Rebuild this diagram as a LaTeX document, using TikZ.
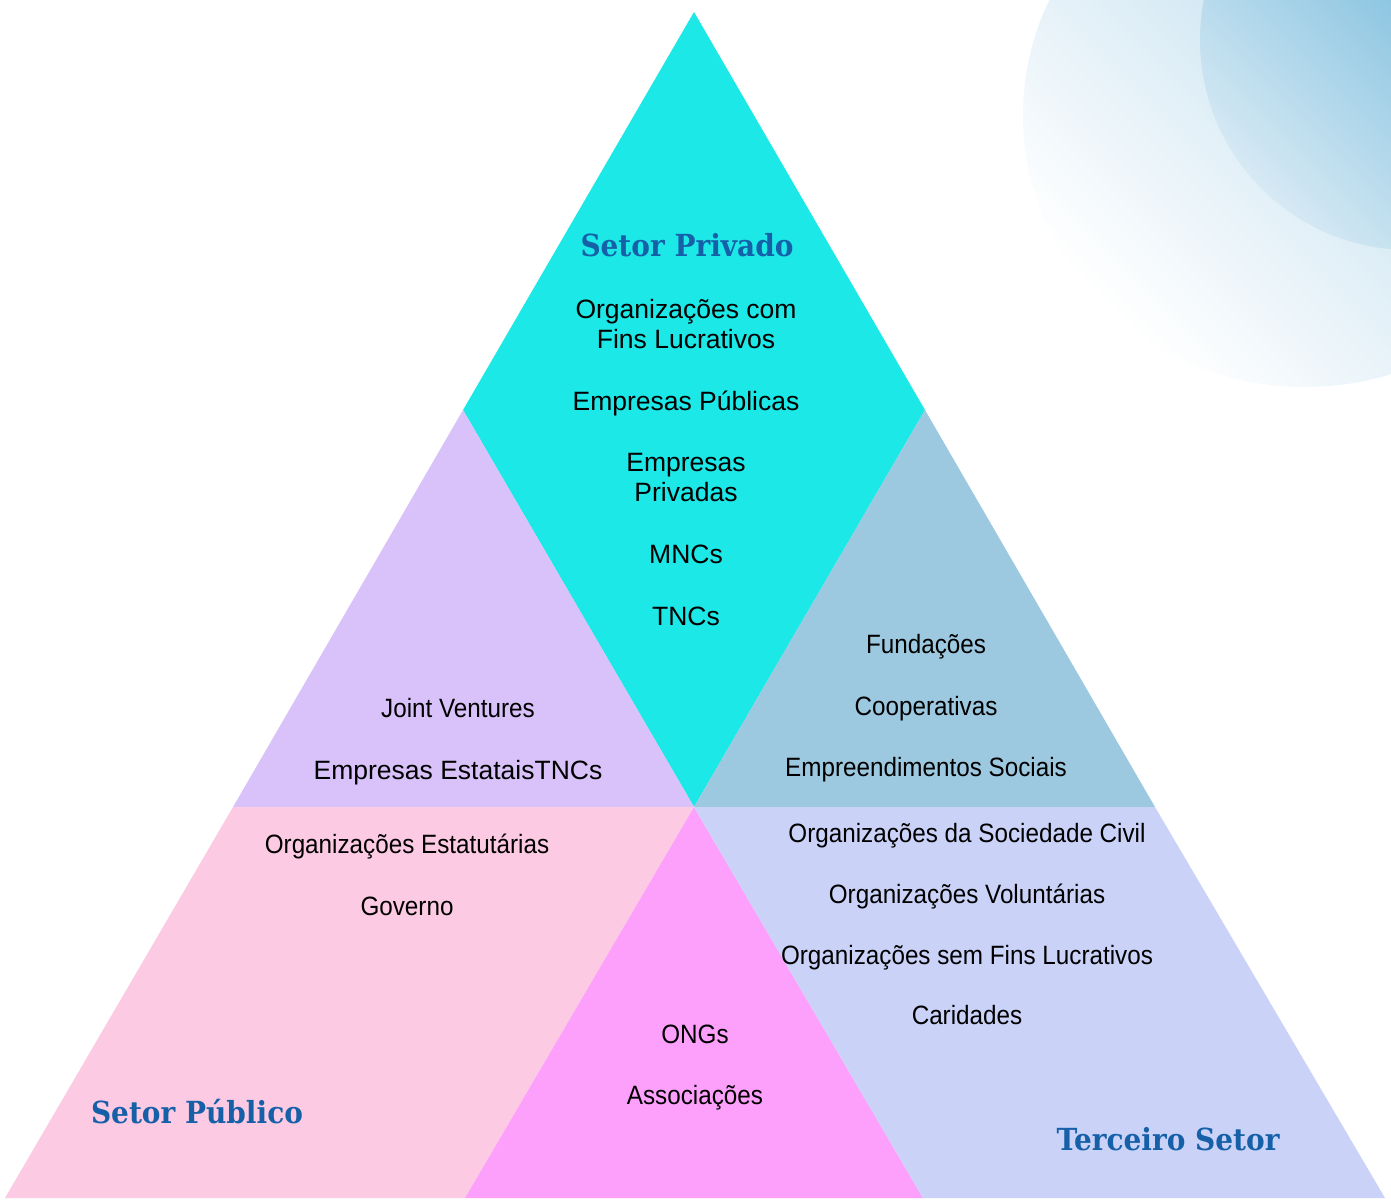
\documentclass[tikz,border=0pt]{standalone}
\usepackage{fontspec}
\setmainfont{Liberation Sans}
\newfontfamily\condfont[FakeStretch=0.915]{Liberation Sans}
\newfontfamily\titlefont[FakeStretch=0.92]{DejaVu Serif}
\definecolor{cyanf}{HTML}{1CE8E8}
\definecolor{purplef}{HTML}{D9C2F9}
\definecolor{bluegrayf}{HTML}{9DC9E0}
\definecolor{pinkf}{HTML}{FDCAE3}
\definecolor{magentaf}{HTML}{FDA0FC}
\definecolor{lavenderf}{HTML}{CAD2F8}
\definecolor{titleblue}{HTML}{1660A8}
\definecolor{circouterM}{HTML}{D3E7F3}
\definecolor{circouterB}{HTML}{AFD5EA}
\definecolor{circinnerA}{HTML}{D6E9F4}
\definecolor{circinnerB}{HTML}{4FA8D2}
\begin{document}
\begin{tikzpicture}[x=1pt,y=-1pt,
  txt/.style={anchor=base, inner sep=0pt, font=\fontsize{26.5}{30}\selectfont},
  ctxt/.style={anchor=base, inner sep=0pt, font=\condfont\fontsize{26.5}{30}\selectfont},
  ttl/.style={anchor=base, inner sep=0pt, text=titleblue, font=\titlefont\bfseries\fontsize{30.4}{34}\selectfont}]
\useasboundingbox (0,0) rectangle (1391,1202);
\fill[white] (0,0) rectangle (1391,1202);
% decorative circles
\begin{scope}
\clip (0,0) rectangle (1391,1202);
\shade[shading=axis, bottom color=white, middle color=circouterM, top color=circouterB, shading angle=-45]
  (1305,115) ellipse [x radius=282, y radius=272];
\shade[shading=axis, bottom color=circinnerA, top color=circinnerB, shading angle=-45]
  (1410,40) circle [radius=210];
\end{scope}
% vertices
\coordinate (A) at (694,12);
\coordinate (L1) at (463,410);
\coordinate (R1) at (925,410);
\coordinate (L2) at (233,807);
\coordinate (M2) at (694,807);
\coordinate (R2) at (1155,807);
\coordinate (BL) at (5,1198);
\coordinate (B1) at (465,1198);
\coordinate (B2) at (923,1198);
\coordinate (BR) at (1385,1198);
% regions
\fill[cyanf] (A) -- (R1) -- (M2) -- (L1) -- cycle;
\fill[purplef] (L1) -- (M2) -- (L2) -- cycle;
\fill[bluegrayf] (R1) -- (R2) -- (M2) -- cycle;
\fill[pinkf] (L2) -- (M2) -- (B1) -- (BL) -- cycle;
\fill[magentaf] (M2) -- (B2) -- (B1) -- cycle;
\fill[lavenderf] (M2) -- (R2) -- (BR) -- (B2) -- cycle;
% titles
\node[ttl] (tpriv) at (687,256) {Setor Privado};
\node[ttl] (tpub) at (197,1123) {Setor Público};
\node[ttl] (tter) at (1168,1150) {Terceiro Setor};
% private sector
\node[txt] (p1a) at (686,318) {Organizações com};
\node[txt] (p1b) at (686,348) {Fins Lucrativos};
\node[txt] (p2) at (686,410) {Empresas Públicas};
\node[txt] (p3a) at (686,471) {Empresas};
\node[txt] (p3b) at (686,501) {Privadas};
\node[txt] (p4) at (686,563) {MNCs};
\node[txt] (p5) at (686,625) {TNCs};
% purple
\node[ctxt] (j1) at (458,717) {Joint Ventures};
\node[txt] (j2) at (458,779) {Empresas EstataisTNCs};
% blue gray
\node[ctxt] (f1) at (926,653) {Fundações};
\node[ctxt] (f2) at (926,715) {Cooperativas};
\node[ctxt] (f3) at (926,776) {Empreendimentos Sociais};
% public
\node[ctxt] (g1) at (407,853) {Organizações Estatutárias};
\node[ctxt] (g2) at (407,915) {Governo};
% magenta
\node[ctxt] (n1) at (695,1043) {ONGs};
\node[ctxt] (n2) at (695,1104) {Associações};
% third sector
\node[ctxt] (t1) at (967,842) {Organizações da Sociedade Civil};
\node[ctxt] (t2) at (967,903) {Organizações Voluntárias};
\node[ctxt] (t3) at (967,964) {Organizações sem Fins Lucrativos};
\node[ctxt] (t4) at (967,1024) {Caridades};
\end{tikzpicture}
\end{document}
